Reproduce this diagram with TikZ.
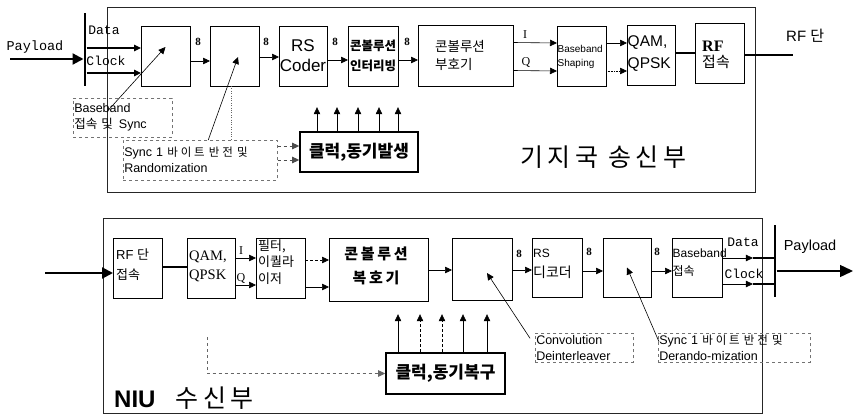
\documentclass[tikz,border=0pt]{standalone}
\usepackage{fontspec}
\setmainfont{Liberation Sans}
\newfontfamily\kr{Noto Sans CJK KR}
\newfontfamily\krw[LetterSpace=25]{Noto Sans CJK KR}
\newfontfamily\krx[LetterSpace=18]{Noto Sans CJK KR}
\newfontfamily\tm{Liberation Serif}
\newfontfamily\mono{Liberation Mono}
\usetikzlibrary{arrows.meta}
\begin{document}
\begin{tikzpicture}[x=1pt,y=-1pt,
  blk/.style={draw, line width=0.7pt, inner sep=0pt, outer sep=0pt},
  frame/.style={draw=black!85, line width=0.9pt, inner sep=0pt},
  lab/.style={draw=black!55, dashed, line width=0.5pt, inner sep=1pt, align=left, font=\fontsize{12.5}{16}\selectfont},
  arr/.style={-{Triangle[length=7pt,width=6.5pt]}, line width=0.6pt},
  thk/.style={line width=2.2pt},
  bar/.style={fill=black, inner sep=0pt, minimum width=2.6pt},
  clk/.style={draw, line width=1.6pt, inner sep=0pt},
  num/.style={font=\tm\bfseries\fontsize{11}{11}\selectfont, inner sep=0pt},
  txt/.style={inner sep=0pt, align=left}
]
\useasboundingbox (0,0) rectangle (854,417);
\fill[white] (0,0) rectangle (854,417);

% ================= TOP PANEL =================
\node[frame, minimum width=648, minimum height=185] (topf) at (431,99.5) {};

\node[blk, minimum width=49, minimum height=60] (b1) at (165.5,56) {};
\node[blk, minimum width=49, minimum height=60] (b2) at (234.5,56) {};
\node[blk, minimum width=48, minimum height=60, align=center, font=\fontsize{17}{20}\selectfont] (rs) at (303,56) {RS\\Coder};
\node[blk, minimum width=50, minimum height=60] (intl) at (373,56) {};
\node[txt, align=center, font=\kr\bfseries\fontsize{12.5}{20}\selectfont] (intlt) at (373,56) {콘볼루션\\인터리빙};
\node[blk, minimum width=95, minimum height=61] (enc) at (465.5,55.5) {};
\node[txt, font=\kr\fontsize{13.5}{18}\selectfont] (enct) at (460,55) {콘볼루션\\부호기};
\node[blk, minimum width=49, minimum height=60] (bbs) at (581.5,56) {};
\node[txt, font=\fontsize{10}{14}\selectfont, anchor=west] (bbst) at (557.5,57) {Baseband\\Shaping};
\node[blk, minimum width=48, minimum height=60] (qam) at (651,55) {};
\node[txt, font=\fontsize{15.5}{22}\selectfont, anchor=west] (qamt) at (627.5,54) {QAM,\\QPSK};
\node[blk, minimum width=49, minimum height=60] (rf) at (719.5,53) {};
\node[txt, anchor=west] (rft) at (702,55) {{\tm\bfseries\fontsize{16}{16}\selectfont RF}\\[2pt]{\kr\fontsize{15}{15}\selectfont 접속}};

% input side
\coordinate (pin) at (10,59);
\node[bar, minimum height=73] (bar1) at (85,49.5) {};
\draw[thk, -{Triangle[length=11pt,width=11pt]}] (pin) -- (bar1.west |- pin);
\node[txt, font=\mono\fontsize{13.5}{13.5}\selectfont] (pl1) at (35,47) {Payload};
\node[txt, font=\mono\fontsize{13}{13}\selectfont] (dt1) at (104,30) {Data};
\node[txt, font=\mono\fontsize{13}{13}\selectfont] (ck1) at (106,61) {Clock};
\draw[arr, line width=1.1pt] (bar1.east |- 0,48) -- (b1.west |- 0,48);
\draw[arr, line width=1.1pt] (bar1.east |- 0,73) -- (b1.west |- 0,73);

% chain
\draw[arr] ([yshift=-5pt]b1.east) -- ([yshift=-5pt]b2.west);
\draw[arr] ([yshift=-1pt]b2.east) -- ([yshift=-1pt]rs.west);
\draw[arr] ([yshift=-4pt]rs.east) -- ([yshift=-4pt]intl.west);
\draw[arr] ([yshift=-4pt]intl.east) -- ([yshift=-4.5pt]enc.west);
\draw[arr] ([yshift=13pt]enc.east) -- ([yshift=13pt]bbs.west);
\draw[arr] ([yshift=-15pt]enc.east) -- ([yshift=-15pt]bbs.west);
\draw[arr] ([yshift=13pt]bbs.east) -- ([yshift=12pt]qam.west);
\draw[arr, densely dotted] ([yshift=-15pt]bbs.east) -- ([yshift=-16pt]qam.west);
\draw[thk] ([yshift=2pt]qam.east) -- (rf.west);
\coordinate (rfout) at (793,55);
\draw[thk] ([yshift=-2pt]rf.east) -- (rfout);
\node[txt, anchor=west] (rfl) at (786,36) {\fontsize{15}{15}\selectfont RF {\kr 단}};

\node[num] at (198,42) {8};
\node[num] at (266,42) {8};
\node[num] at (335,42) {8};
\node[num] at (407,42) {8};
\node[txt, font=\tm\fontsize{12}{12}\selectfont] at (525,35) {I};
\node[txt, font=\tm\fontsize{12}{12}\selectfont] at (526,63) {Q};

% labels
\node[lab, minimum width=99, minimum height=39, anchor=north west, text width=97] (lab1) at (73,98)
  {Baseband\\{\kr 접속 및}\hspace{6pt}Sync};
\draw[arr] ([xshift=-14.5pt,yshift=7.5pt]lab1.center) -- ([yshift=9pt]b1.center);
\node[lab, minimum width=154, minimum height=40, anchor=north west, text width=152] (lab2) at (123,140)
  {Sync 1 {\krw\fontsize{11.5}{16}\selectfont 바이트 반전 및}\\Randomization};
\draw[arr] ([xshift=8pt]lab2.north) -- ([xshift=3.5pt,yshift=-1pt]b2.center);
\draw[dotted, black!60] ([xshift=-3.5pt]b2.south) -- ([xshift=-3.5pt]lab2.north -| b2.south);

\node[clk, minimum width=118, minimum height=40, font=\kr\bfseries\fontsize{17}{17}\selectfont] (clk) at (359,152) {클럭,동기발생};
\draw[arr, dashed, black!70] (lab2.east |- 0,146) -- (clk.west |- 0,146);
\draw[arr, dashed, black!70] (lab2.east |- 0,160) -- (clk.west |- 0,160);
\foreach \dx in {-42,-22,-1,20,39}{
  \draw[arr] ([xshift=\dx pt]clk.north) -- ++(0,-24);
}
\node[txt, font=\krx\fontsize{25}{25}\selectfont] at (603,157) {기지국\hspace{10pt}송신부};

% ================= BOTTOM PANEL =================
\node[frame, minimum width=659, minimum height=195] (botf) at (432.5,315.5) {};

\node[blk, minimum width=49, minimum height=60] (rfb) at (137.5,268) {};
\node[txt, anchor=west, font=\fontsize{13}{20}\selectfont] (rfbt) at (116,265) {RF {\kr 단}\\{\kr 접속}};
\node[blk, minimum width=48, minimum height=60] (qamb) at (211,268) {};
\node[txt, anchor=west, font=\tm\fontsize{14.5}{19}\selectfont] (qambt) at (189,266) {QAM,\\QPSK};
\node[blk, minimum width=49, minimum height=60] (flt) at (280.5,268) {};
\node[txt, anchor=west, font=\kr\fontsize{13}{16.5}\selectfont] (fltt) at (258,262) {필터,\\이퀄라\\이저};
\node[blk, minimum width=99, minimum height=63] (dec) at (378.5,269.5) {};
\node[txt, align=center, font=\krx\bfseries\fontsize{15}{24}\selectfont] (dect) at (376,266) {콘볼루션\\복호기};
\node[blk, minimum width=60, minimum height=62] (dint) at (482,269) {};
\node[blk, minimum width=50, minimum height=59] (rsd) at (557,267.5) {};
\node[txt, anchor=west, font=\fontsize{12}{20}\selectfont] (rsdt) at (533,264) {RS\\{\kr\fontsize{14}{14}\selectfont 디코더}};
\node[blk, minimum width=48, minimum height=59] (der) at (627,267.5) {};
\node[blk, minimum width=50, minimum height=59] (bbc) at (697,267.5) {};
\node[txt, anchor=west, font=\fontsize{12}{18}\selectfont] (bbct) at (672.5,263) {Baseband\\{\kr 접속}};

\coordinate (rfin) at (45,273);
\draw[thk, -{Triangle[length=11pt,width=11pt]}] (rfin) -- ([yshift=-5pt]rfb.west);
\draw[thk] ([yshift=1pt]rfb.east) -- ([yshift=1pt]qamb.west);
\draw[arr] ([yshift=10pt]qamb.east) -- ([yshift=10pt]flt.west);
\draw[arr] ([yshift=-17pt]qamb.east) -- ([yshift=-17pt]flt.west);
\node[txt, font=\tm\fontsize{12}{12}\selectfont] at (241,251) {I};
\node[txt, font=\tm\fontsize{12}{12}\selectfont] at (241,278) {Q};
\draw[arr, densely dashed] ([yshift=8pt]flt.east) -- ([yshift=9.5pt]dec.west);
\draw[arr] ([yshift=-19pt]flt.east) -- ([yshift=-17.5pt]dec.west);
\draw[arr] ([yshift=-0.5pt]dec.east) -- ([yshift=-1pt]dint.west);
\draw[arr] ([yshift=-1pt]dint.east) -- ([yshift=-2.5pt]rsd.west);
\draw[arr] ([yshift=-3.5pt]rsd.east) -- ([yshift=-3.5pt]der.west);
\draw[arr] ([yshift=-3.5pt]der.east) -- ([yshift=-3.5pt]bbc.west);
\node[num] at (519,254) {8};
\node[num] at (589,252) {8};
\node[num] at (657,252) {8};

% output side
\node[bar, minimum height=72] (bar2) at (775,261) {};
\path (bbc.east |- 0,258) -- coordinate[pos=0.6] (m1) (bar2.west |- 0,258);
\path (bbc.east |- 0,284) -- coordinate[pos=0.6] (m2) (bar2.west |- 0,284);
\draw[arr] (bbc.east |- 0,258) -- (m1);
\draw[arr] (bbc.east |- 0,284) -- (m2);
\draw[line width=1.8pt] (m1) -- (bar2.west |- 0,258);
\draw[line width=1.8pt] (m2) -- (bar2.west |- 0,284);
\coordinate (pout) at (853,271);
\draw[line width=1.4pt, -{Triangle[length=13pt,width=12pt]}] (bar2.east |- pout) -- (pout);
\node[txt, font=\fontsize{14.5}{14.5}\selectfont] at (810,247) {Payload};
\node[txt, font=\mono\fontsize{13}{13}\selectfont] at (743,242) {Data};
\node[txt, font=\mono\fontsize{13}{13}\selectfont] at (744,274) {Clock};

% labels
\node[lab, minimum width=98, minimum height=29, anchor=north west, text width=96] (lab3) at (535,333)
  {Convolution\\Deinterleaver};
\draw[arr] ([xshift=-5pt,yshift=9.5pt]lab3.west) -- ([xshift=5pt,yshift=-4pt]dint.center);
\node[lab, minimum width=152, minimum height=29, anchor=north west, text width=150] (lab4) at (658,333)
  {Sync 1 {\krw\fontsize{11.5}{16}\selectfont 바이트 반전 및}\\Derando-mization};
\draw[arr] ([xshift=1pt,yshift=6pt]lab4.west) -- (der.center);

\node[clk, minimum width=119, minimum height=41, font=\kr\bfseries\fontsize{17}{17}\selectfont] (clkr) at (445.5,373.5) {클럭,동기복구};
\foreach \dx/\st in {-47.5/solid,-25.5/densely dashed,-3.5/densely dashed,17.5/solid,41.5/solid}{
  \draw[arr, \st] ([xshift=\dx pt]clkr.north) -- ++(0,-38);
}
\coordinate (cin) at (207,337);
\draw[arr, dashed, black!60] (cin) |- (clkr.west);

\node[txt, anchor=west] at (114,398) {{\bfseries\fontsize{24}{24}\selectfont NIU}\hspace{20pt}{\krx\fontsize{25}{25}\selectfont 수신부}};
\end{tikzpicture}
\end{document}
